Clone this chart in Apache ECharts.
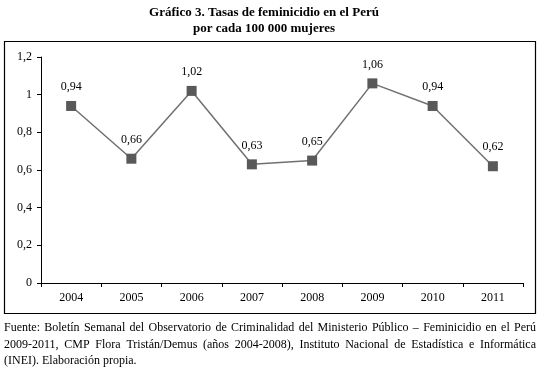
<!DOCTYPE html>
<html>
<head>
<meta charset="utf-8">
<script src="https://cdn.jsdelivr.net/npm/echarts@6/dist/echarts.min.js"></script>
<style>
  html, body { margin: 0; padding: 0; background: #fff; }
  #chart { width: 541px; height: 373px; }
</style>
</head>
<body>
<div id="chart"></div>
<script>
const years = ['2004', '2005', '2006', '2007', '2008', '2009', '2010', '2011'];
const tasas = [0.94, 0.66, 1.02, 0.63, 0.65, 1.06, 0.94, 0.62];
const titleLines = ['Gráfico 3. Tasas de feminicidio en el Perú', 'por cada 100 000 mujeres'];
const fuenteLines = [
  'Fuente: Boletín Semanal del Observatorio de Criminalidad del Ministerio Público – Feminicidio en el Perú',
  '2009-2011, CMP Flora Tristán/Demus (años 2004-2008), Instituto Nacional de Estadística e Informática',
  '(INEI). Elaboración propia.'
];

const serif = '"Liberation Serif", "DejaVu Serif", serif';
const fmt = v => String(v).replace('.', ',');

// justified footer: lay out words across the box width (last line left aligned)
const ctx = document.createElement('canvas').getContext('2d');
const footFont = '12px "Liberation Serif"';
ctx.font = footFont;
const footLeft = 4, footRight = 536;
const footer = [];
fuenteLines.forEach((line, i) => {
  const words = line.split(' ');
  const y = 322 + i * 16.5;
  if (i === fuenteLines.length - 1) {
    footer.push({ type: 'text', x: footLeft, y, style: { text: line, font: footFont, fill: '#000' } });
    return;
  }
  const total = words.reduce((s, w) => s + ctx.measureText(w).width, 0);
  const gap = (footRight - footLeft - total) / (words.length - 1);
  let x = footLeft;
  words.forEach(w => {
    footer.push({ type: 'text', x, y, style: { text: w, font: footFont, fill: '#000' } });
    x += ctx.measureText(w).width + gap;
  });
});

const chart = echarts.init(document.getElementById('chart'));

chart.setOption({
  animation: false,
  textStyle: { fontFamily: serif },
  grid: { left: 41, right: 18, top: 57, bottom: 90, containLabel: false },
  xAxis: {
    type: 'category',
    data: years,
    boundaryGap: true,
    axisLine: { lineStyle: { color: '#000', width: 1 } },
    axisTick: { show: true, length: 4, inside: false, lineStyle: { color: '#000' } },
    axisLabel: { color: '#000', fontSize: 12, fontFamily: serif, margin: 9 }
  },
  yAxis: {
    type: 'value',
    min: 0,
    max: 1.2,
    interval: 0.2,
    axisLine: { show: true, lineStyle: { color: '#000', width: 1 } },
    axisTick: { show: true, length: 4, lineStyle: { color: '#000' } },
    splitLine: { show: false },
    axisLabel: { color: '#000', fontSize: 12, fontFamily: serif, margin: 9, formatter: v => fmt(+v.toFixed(1)) }
  },
  series: [{
    type: 'line',
    data: tasas,
    symbol: 'rect',
    symbolSize: 10,
    itemStyle: { color: '#595959' },
    lineStyle: { color: '#707070', width: 1.5 },
    label: {
      show: true,
      position: 'top',
      distance: 8,
      color: '#000',
      fontSize: 12,
      fontFamily: serif,
      formatter: p => fmt(p.value)
    }
  }],
  graphic: [
    {
      type: 'text',
      x: 264,
      y: 5,
      style: {
        text: titleLines.join('\n'),
        font: 'bold 13px "Liberation Serif"',
        lineHeight: 16,
        align: 'center',
        fill: '#000'
      }
    },
    {
      type: 'rect',
      shape: { x: 4.5, y: 41.5, width: 531, height: 272 },
      style: { fill: null, stroke: '#000', lineWidth: 1.2 },
      silent: true
    },
    ...footer
  ]
});
</script>
</body>
</html>
